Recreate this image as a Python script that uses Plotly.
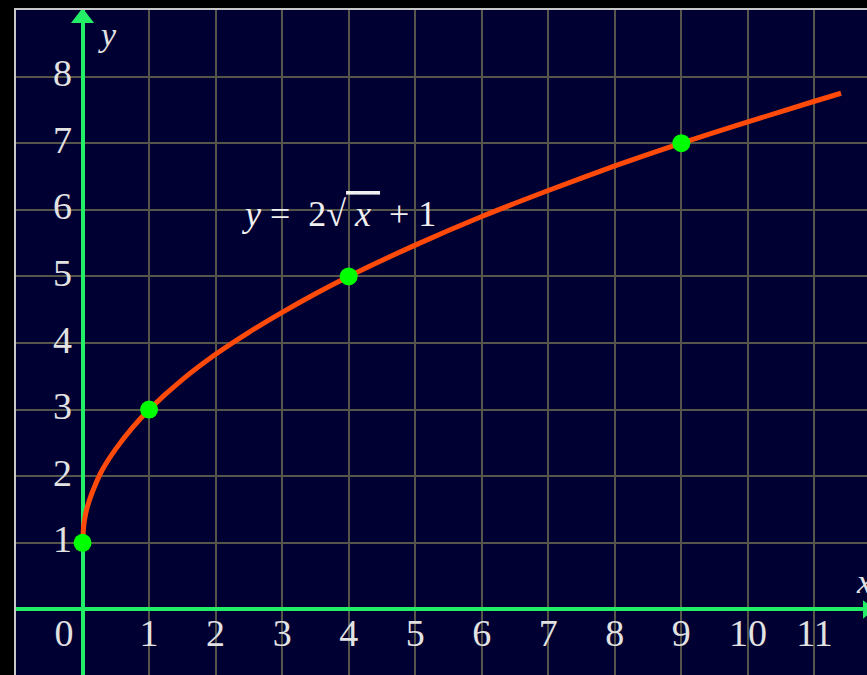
import plotly.graph_objects as go

# Curve points
curve_x = [0, 0.02, 0.05, 0.1, 0.2, 0.3, 0.5, 0.75, 1, 1.5, 2, 2.5, 3, 3.5, 4, 5, 6, 7, 8, 9, 10, 11, 11.4]
curve_y = [1, 1.28, 1.45, 1.63, 1.89, 2.10, 2.41, 2.73, 3.0, 3.45, 3.83, 4.16, 4.46, 4.74, 5.0, 5.47, 5.90, 6.29, 6.66, 7.0, 7.32, 7.63, 7.75]

# Highlighted points
pts_x = [0, 1, 4, 9]
pts_y = [1, 3, 5, 7]

# Tick labels
x_ticks = [1, 2, 3, 4, 5, 6, 7, 8, 9, 10, 11]
x_tick_labels = ["1", "2", "3", "4", "5", "6", "7", "8", "9", "10", "11"]
y_ticks = [1, 2, 3, 4, 5, 6, 7, 8]
y_tick_labels = ["1", "2", "3", "4", "5", "6", "7", "8"]
origin_label = "0"

equation = ("<i>y</i>&nbsp;=&nbsp;&nbsp;2√<span style='text-decoration:overline'>&nbsp;<i>x</i>&nbsp;</span>"
            "&nbsp;+&nbsp;1")

GREEN_AXIS = "#22ee66"
LABEL = "#e2e2e2"
SERIF = "Liberation Serif, Times New Roman, serif"

fig = go.Figure()

# curve
fig.add_trace(go.Scatter(x=curve_x, y=curve_y, mode="lines",
                         line=dict(color="#ff4a0a", width=5, shape="spline", smoothing=0.6),
                         hoverinfo="skip", showlegend=False))
# points
fig.add_trace(go.Scatter(x=pts_x, y=pts_y, mode="markers",
                         marker=dict(color="#00ff00", size=18, line=dict(width=0)),
                         showlegend=False))
# x tick labels
fig.add_trace(go.Scatter(x=x_ticks + [-0.28], y=[-0.4] * len(x_ticks) + [-0.4], mode="text",
                         text=x_tick_labels + [origin_label],
                         textfont=dict(family=SERIF, size=38, color=LABEL),
                         textposition="middle center", showlegend=False, cliponaxis=False))
# y tick labels
fig.add_trace(go.Scatter(x=[-0.3] * len(y_ticks), y=y_ticks, mode="text",
                         text=y_tick_labels,
                         textfont=dict(family=SERIF, size=38, color=LABEL),
                         textposition="middle center", showlegend=False, cliponaxis=False))
# arrowheads
fig.add_trace(go.Scatter(x=[0], y=[8.88], mode="markers",
                         marker=dict(symbol="triangle-up", color=GREEN_AXIS, size=20, line=dict(width=0)),
                         showlegend=False, cliponaxis=False))
fig.add_trace(go.Scatter(x=[11.79], y=[0], mode="markers",
                         marker=dict(symbol="triangle-right", color=GREEN_AXIS, size=16, line=dict(width=0)),
                         showlegend=False, cliponaxis=False))

# axis names
fig.add_annotation(x=0.38, y=8.63, text="<i>y</i>", showarrow=False,
                   font=dict(family=SERIF, size=34, color=LABEL))
fig.add_annotation(x=11.74, y=0.42, text="<i>x</i>", showarrow=False,
                   font=dict(family=SERIF, size=34, color=LABEL))
# equation
fig.add_annotation(x=3.86, y=5.93, text=equation, showarrow=False,
                   font=dict(family=SERIF, size=36, color="#f0f0f0"))

fig.update_xaxes(range=[-1, 11.79], dtick=1, tick0=0, showgrid=True, gridcolor="#55554a", gridwidth=2,
                 zeroline=True, zerolinecolor=GREEN_AXIS, zerolinewidth=3.5,
                 showticklabels=False, ticks="", showline=True, linecolor="#c8c8c8", linewidth=2,
                 side="top", mirror=False, fixedrange=True)
fig.update_yaxes(range=[-0.985, 9.0], dtick=1, tick0=0, showgrid=True, gridcolor="#55554a", gridwidth=2,
                 zeroline=True, zerolinecolor=GREEN_AXIS, zerolinewidth=3.5,
                 showticklabels=False, ticks="", showline=True, linecolor="#c8c8c8", linewidth=2,
                 side="left", mirror=False, fixedrange=True)

fig.update_layout(width=867, height=675, margin=dict(l=16, r=0, t=10, b=0),
                  paper_bgcolor="#000000", plot_bgcolor="#000033", showlegend=False)

page_fix = ("document.body.style.margin='0';document.body.style.background='#000';"
            "document.documentElement.style.overflow='hidden';document.body.style.overflow='hidden';")

fig.write_html("out.html", config={"displayModeBar": False}, post_script=page_fix)
